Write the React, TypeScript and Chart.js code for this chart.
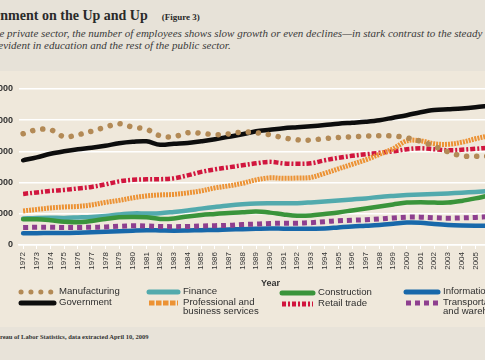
import React, { useEffect, useRef } from "react";
import { Chart, registerables } from "chart.js";

Chart.register(...registerables);

const years = [
  1972, 1973, 1974, 1975, 1976, 1977, 1978, 1979, 1980, 1981, 1982, 1983,
  1984, 1985, 1986, 1987, 1988, 1989, 1990, 1991, 1992, 1993, 1994, 1995,
  1996, 1997, 1998, 1999, 2000, 2001, 2002, 2003, 2004, 2005, 2006,
];

const manufacturing = [
  17830, 18470, 18470, 17345, 17670, 18230, 18870, 19430, 18870, 18550, 17500,
  17345, 17990, 17900, 17670, 17780, 18100, 17990, 17670, 17180, 16860, 16815,
  17055, 17230, 17345, 17460, 17505, 17460, 17180, 16620, 15820, 14935, 14290,
  14210, 14210,
];
const government = [
  13570, 14050, 14615, 15015, 15340, 15580, 15900, 16300, 16540, 16620, 16060,
  16220, 16330, 16620, 16940, 17345, 17750, 18230, 18470, 18710, 18870, 19030,
  19220, 19430, 19590, 19750, 19990, 20400, 20800, 21280, 21630, 21760, 21890,
  22080, 22320,
];
const finance = [
  4255, 4340, 4370, 4340, 4415, 4500, 4660, 4900, 5060, 5060, 5090, 5300, 5540,
  5830, 6100, 6345, 6535, 6665, 6700, 6700, 6700, 6825, 6985, 7150, 7310, 7470,
  7710, 7870, 8000, 8110, 8190, 8270, 8385, 8510, 8670,
];
const professional = [
  5460, 5700, 5940, 6100, 6180, 6420, 6825, 7150, 7550, 7870, 8030, 8110, 8350,
  8670, 9150, 9475, 9880, 10440, 10760, 10680, 10730, 10840, 11480, 12205,
  12930, 13650, 14535, 15420, 16700, 16700, 16220, 16140, 16460, 17020, 17500,
];
const construction = [
  4130, 4130, 3970, 3740, 3645, 3855, 4175, 4450, 4500, 4450, 4175, 4255, 4580,
  4820, 4980, 5140, 5250, 5350, 5190, 4900, 4690, 4740, 4980, 5220, 5540, 5860,
  6180, 6500, 6795, 6860, 6795, 6795, 7065, 7470, 7950,
];
const retail = [
  8190, 8430, 8670, 8830, 9070, 9310, 9715, 10200, 10440, 10520, 10550, 10680,
  11160, 11720, 12125, 12450, 12770, 13090, 13330, 13090, 13010, 13090, 13570,
  13970, 14290, 14535, 14775, 15015, 15340, 15500, 15340, 15180, 15260, 15420,
  15580,
];
const information = [
  1880, 1895, 1930, 1930, 1975, 2040, 2120, 2215, 2300, 2360, 2330, 2300, 2330,
  2380, 2410, 2490, 2540, 2600, 2650, 2620, 2600, 2620, 2650, 2810, 2970, 3080,
  3210, 3400, 3610, 3580, 3370, 3210, 3130, 3100, 3100,
];
const transportation = [
  2810, 2840, 2840, 2810, 2810, 2840, 2890, 3000, 3080, 3050, 2970, 2940, 2970,
  3050, 3100, 3160, 3290, 3340, 3450, 3480, 3500, 3580, 3740, 3890, 3970, 4050,
  4175, 4340, 4465, 4465, 4370, 4300, 4340, 4415, 4530,
];

const yTicks = [0, 5000, 10000, 15000, 20000, 25000];

const C = {
  manufacturing: "#b38a56",
  government: "#0d0d0d",
  finance: "#52aaad",
  professional: "#ec9234",
  construction: "#3a943b",
  retail: "#d1163e",
  information: "#1868aa",
  transportation: "#8e3f8f",
};

type Style = { color: string; width: number; dash: number[]; cap: CanvasLineCap };

const styles: Record<string, Style> = {
  manufacturing: { color: C.manufacturing, width: 5.5, dash: [0.1, 10], cap: "round" },
  government: { color: C.government, width: 4.5, dash: [], cap: "round" },
  finance: { color: C.finance, width: 4.5, dash: [], cap: "round" },
  professional: { color: C.professional, width: 5, dash: [2, 1], cap: "butt" },
  construction: { color: C.construction, width: 4.5, dash: [], cap: "round" },
  retail: { color: C.retail, width: 4.5, dash: [5, 2, 2, 2], cap: "butt" },
  information: { color: C.information, width: 4.5, dash: [], cap: "round" },
  transportation: { color: C.transportation, width: 5, dash: [5, 4], cap: "butt" },
};

const legendDash: Record<string, number[]> = {
  manufacturing: [0.1, 9.8],
  government: [],
  finance: [],
  professional: [5.5, 1.5],
  construction: [],
  retail: [4, 2, 2, 2],
  information: [],
  transportation: [5, 4],
};

function ds(label: string, key: string, values: number[], order: number) {
  const s = styles[key];
  return {
    label,
    data: years.map((yr, i) => ({ x: yr, y: values[i] })),
    borderColor: s.color,
    backgroundColor: s.color,
    borderWidth: s.width,
    borderDash: s.dash,
    borderCapStyle: s.cap,
    borderJoinStyle: "round" as const,
    pointRadius: 0,
    tension: 0.35,
    fill: false,
    order,
  };
}

const sans = "'Liberation Sans', Arial, sans-serif";
const serif = "'Liberation Serif', 'Times New Roman', serif";

function LegendItem({
  x,
  y,
  k,
  w,
  lines,
}: {
  x: number;
  y: number;
  k: string;
  w: number;
  lines: string[];
}) {
  const s = styles[k];
  const width = k === "manufacturing" ? 5 : s.width === 4.5 ? 5 : s.width;
  return (
    <>
      <svg
        width={w + 6}
        height={10}
        style={{ position: "absolute", left: x - 3, top: y - 5 }}
      >
        <line
          x1={3}
          y1={5}
          x2={w + 3 - (s.cap === "round" ? 0 : 0)}
          y2={5}
          stroke={s.color}
          strokeWidth={width}
          strokeDasharray={legendDash[k].length ? legendDash[k].join(" ") : undefined}
          strokeLinecap={s.cap === "round" ? "round" : "butt"}
        />
      </svg>
      <div
        style={{
          position: "absolute",
          left: x + w + 5,
          top: y - 6,
          font: `9.6px ${sans}`,
          lineHeight: "9.8px",
          color: "#2f2f2f",
          whiteSpace: "nowrap",
        }}
      >
        {lines.map((l, i) => (
          <div key={i}>{l}</div>
        ))}
      </div>
    </>
  );
}

export default function App() {
  const ref = useRef<HTMLCanvasElement | null>(null);

  useEffect(() => {
    if (!ref.current) return;
    const chart = new Chart(ref.current, {
      type: "line",
      data: {
        datasets: [
          ds("Manufacturing", "manufacturing", manufacturing, 0),
          ds("Government", "government", government, 1),
          ds("Professional and business services", "professional", professional, 2),
          ds("Retail trade", "retail", retail, 3),
          ds("Construction", "construction", construction, 4),
          ds("Finance", "finance", finance, 5),
          ds("Transportation and warehousing", "transportation", transportation, 6),
          ds("Information", "information", information, 7),
        ] as any,
      },
      options: {
        animation: false,
        responsive: false,
        devicePixelRatio: 1,
        layout: { padding: { top: 19, left: 0, right: 0, bottom: 0 } },
        plugins: {
          legend: { display: false },
          tooltip: { enabled: false },
        },
        scales: {
          x: {
            type: "linear",
            min: 1971.7,
            max: 2008.4,
            afterBuildTicks: (s: any) => {
              s.ticks = years.map((v) => ({ value: v }));
            },
            afterFit: (s: any) => {
              s.height = 44;
            },
            ticks: {
              autoSkip: false,
              minRotation: 90,
              maxRotation: 90,
              padding: 3,
              color: "#333",
              font: { family: sans, size: 8 },
              callback: (v: any) => String(v),
            },
            grid: {
              drawOnChartArea: false,
              drawTicks: true,
              tickLength: 4,
              color: "#ffffff",
              lineWidth: 1,
            },
            border: { display: true, color: "#ffffff", width: 1.5 },
            title: {
              display: true,
              text: "Year",
              color: "#333",
              font: { family: sans, size: 9, weight: "bold" },
              padding: 0,
            },
          },
          y: {
            min: 0,
            max: 25000,
            afterBuildTicks: (s: any) => {
              s.ticks = yTicks.map((v) => ({ value: v }));
            },
            afterFit: (s: any) => {
              s.width = 60;
            },
            ticks: {
              padding: 6,
              color: "#333",
              font: { family: sans, size: 9, weight: "bold" },
              callback: (v: any) => Number(v).toLocaleString("en-US"),
            },
            grid: { color: "#ffffff", lineWidth: 1.5, drawTicks: false },
            border: { display: false },
          },
        },
      } as any,
    });
    return () => chart.destroy();
  }, []);

  return (
    <div
      style={{
        position: "fixed",
        left: 0,
        top: 0,
        width: 485,
        height: 360,
        overflow: "hidden",
        background: "#efe8db",
      }}
    >
      <div
        style={{
          position: "absolute",
          left: 0,
          top: 0,
          width: 485,
          height: 71,
          background: "#e7e2d8",
        }}
      />
      <div
        style={{
          position: "absolute",
          left: 0,
          top: 327,
          width: 485,
          height: 33,
          background: "#e8e3d9",
        }}
      />
      <div
        style={{
          position: "absolute",
          left: -37,
          top: 8,
          whiteSpace: "nowrap",
          font: `bold 14px ${serif}`,
          lineHeight: "16px",
          color: "#2a2a2a",
        }}
      >
        Government on the Up and Up
        <span style={{ fontSize: 9, marginLeft: 14 }}>(Figure 3)</span>
      </div>
      <div
        style={{
          position: "absolute",
          left: -21,
          top: 27,
          whiteSpace: "nowrap",
          font: `italic 11px ${serif}`,
          lineHeight: "12px",
          color: "#3a3a3a",
        }}
      >
        <div>
          In the private sector, the number of employees shows slow growth or even
          declines—in stark contrast to the steady
        </div>
        <div>rise evident in education and the rest of the public sector.</div>
      </div>
      <canvas
        ref={ref}
        width={563}
        height={219}
        style={{ position: "absolute", left: -41, top: 70, width: 563, height: 219 }}
      />
      <LegendItem x={21} y={292} k="manufacturing" w={33} lines={["Manufacturing"]} />
      <LegendItem x={21} y={302.5} k="government" w={33} lines={["Government"]} />
      <LegendItem x={149} y={292} k="finance" w={29} lines={["Finance"]} />
      <LegendItem
        x={149}
        y={302.5}
        k="professional"
        w={29}
        lines={["Professional and", "business services"]}
      />
      <LegendItem x={282} y={293} k="construction" w={31} lines={["Construction"]} />
      <LegendItem x={282} y={303.5} k="retail" w={31} lines={["Retail trade"]} />
      <LegendItem x={406} y={292} k="information" w={32} lines={["Information"]} />
      <LegendItem
        x={406}
        y={302.5}
        k="transportation"
        w={32}
        lines={["Transportation", "and warehousing"]}
      />
      <div
        style={{
          position: "absolute",
          left: -44,
          top: 333,
          whiteSpace: "nowrap",
          font: `bold 6.5px ${serif}`,
          lineHeight: "8px",
          color: "#333",
        }}
      >
        Source: U.S. Bureau of Labor Statistics, data extracted April 10, 2009
      </div>
    </div>
  );
}
